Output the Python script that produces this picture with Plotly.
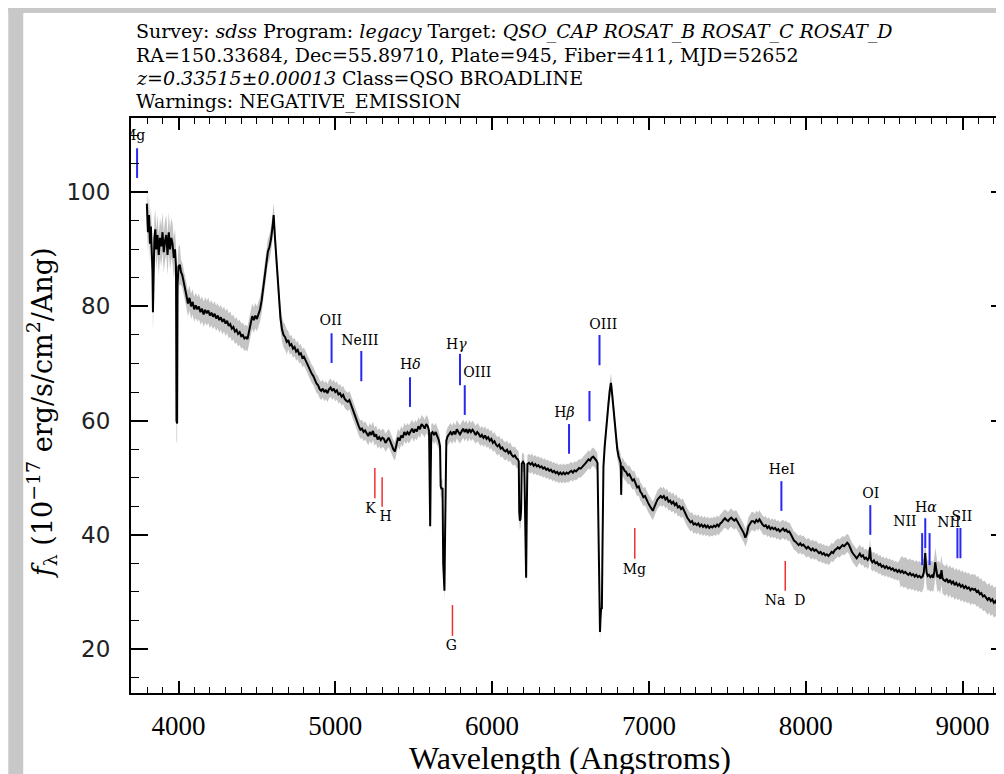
import numpy as np
import plotly.graph_objects as go

# ---------------- data ----------------
z = 0.33515

wavelength = [
 3798, 3805, 3812, 3818, 3824, 3830, 3834, 3837, 3840, 3846, 3852, 3858, 3866, 3874, 3882, 3890,
 3898, 3906, 3914, 3922, 3930, 3938, 3946, 3954, 3962, 3970, 3978, 3984, 3987, 3991, 3994, 4000,
 4008, 4016, 4024, 4032, 4040, 4050, 4060, 4070, 4080, 4090, 4100, 4110, 4120, 4130, 4140, 4150,
 4160, 4170, 4180, 4190, 4200, 4210, 4220, 4230, 4240, 4250, 4260, 4270, 4280, 4290, 4300, 4310,
 4320, 4330, 4340, 4350, 4360, 4370, 4380, 4390, 4400, 4410, 4420, 4430, 4440, 4450, 4460, 4470,
 4480, 4490, 4500, 4510, 4520, 4530, 4540, 4550, 4560, 4570, 4580, 4590, 4600, 4607, 4614, 4622,
 4630, 4640, 4650, 4660, 4670, 4680, 4690, 4700, 4710, 4720, 4730, 4740, 4750, 4760, 4770, 4780,
 4790, 4800, 4810, 4820, 4830, 4840, 4850, 4860, 4870, 4880, 4890, 4900, 4910, 4920, 4930, 4940,
 4950, 4960, 4970, 4980, 4990, 5000, 5010, 5020, 5030, 5040, 5050, 5060, 5070, 5080, 5090, 5100,
 5110, 5120, 5130, 5140, 5150, 5160, 5170, 5180, 5190, 5200, 5210, 5220, 5230, 5240, 5250, 5260,
 5270, 5280, 5290, 5300, 5310, 5320, 5330, 5340, 5350, 5360, 5370, 5380, 5390, 5400, 5410, 5420,
 5430, 5440, 5450, 5460, 5470, 5480, 5490, 5500, 5510, 5520, 5530, 5540, 5550, 5560, 5570, 5580,
 5590, 5598, 5602, 5605, 5608, 5612, 5620, 5630, 5640, 5650, 5660, 5668, 5672, 5678, 5684, 5688,
 5692, 5696, 5700, 5704, 5708, 5715, 5725, 5735, 5745, 5755, 5765, 5775, 5785, 5795, 5805, 5815,
 5825, 5835, 5845, 5855, 5865, 5875, 5885, 5895, 5905, 5915, 5925, 5935, 5945, 5955, 5965, 5975,
 5985, 5995, 6005, 6015, 6025, 6035, 6045, 6055, 6065, 6075, 6085, 6095, 6105, 6115, 6125, 6135,
 6145, 6155, 6165, 6170, 6173, 6177, 6181, 6185, 6189, 6197, 6205, 6209, 6213, 6217, 6221, 6225,
 6235, 6245, 6255, 6265, 6275, 6285, 6295, 6305, 6315, 6325, 6335, 6345, 6355, 6365, 6375, 6385,
 6395, 6405, 6415, 6425, 6435, 6445, 6455, 6465, 6475, 6485, 6495, 6505, 6515, 6525, 6535, 6545,
 6555, 6565, 6575, 6585, 6595, 6605, 6615, 6625, 6635, 6645, 6655, 6665, 6672, 6676, 6680, 6684,
 6688, 6692, 6696, 6700, 6704, 6710, 6718, 6726, 6734, 6742, 6750, 6758, 6766, 6774, 6782, 6790,
 6798, 6806, 6814, 6820, 6823, 6826, 6835, 6845, 6855, 6865, 6875, 6885, 6895, 6905, 6915, 6925,
 6935, 6945, 6955, 6965, 6975, 6985, 6995, 7005, 7015, 7025, 7035, 7045, 7055, 7065, 7075, 7085,
 7095, 7105, 7115, 7125, 7135, 7145, 7155, 7165, 7175, 7185, 7195, 7205, 7215, 7225, 7235, 7245,
 7255, 7265, 7275, 7285, 7295, 7305, 7315, 7325, 7335, 7345, 7355, 7365, 7375, 7385, 7395, 7405,
 7415, 7425, 7435, 7445, 7455, 7465, 7475, 7485, 7495, 7505, 7515, 7525, 7535, 7545, 7555, 7565,
 7575, 7585, 7595, 7605, 7615, 7625, 7635, 7645, 7655, 7665, 7675, 7685, 7695, 7705, 7715, 7725,
 7735, 7745, 7755, 7765, 7775, 7785, 7795, 7805, 7815, 7825, 7835, 7845, 7855, 7865, 7875, 7885,
 7895, 7905, 7915, 7925, 7935, 7945, 7955, 7965, 7975, 7985, 7995, 8005, 8015, 8025, 8035, 8045,
 8055, 8065, 8075, 8085, 8095, 8105, 8115, 8125, 8135, 8145, 8155, 8165, 8175, 8185, 8195, 8205,
 8215, 8225, 8235, 8245, 8255, 8265, 8275, 8285, 8295, 8305, 8315, 8325, 8335, 8345, 8355, 8365,
 8375, 8385, 8395, 8404, 8410, 8416, 8425, 8435, 8445, 8455, 8465, 8475, 8485, 8495, 8505, 8515,
 8525, 8535, 8545, 8555, 8565, 8575, 8585, 8595, 8605, 8615, 8625, 8635, 8645, 8655, 8665, 8675,
 8685, 8695, 8705, 8715, 8725, 8735, 8745, 8753, 8758, 8762, 8766, 8771, 8778, 8786, 8795, 8805,
 8813, 8820, 8826, 8832, 8840, 8850, 8858, 8866, 8872, 8880, 8890, 8900, 8910, 8920, 8930, 8940,
 8950, 8960, 8970, 8980, 8990, 9000, 9010, 9020, 9030, 9040, 9050, 9060, 9070, 9080, 9090, 9100,
 9110, 9120, 9130, 9140, 9150, 9160, 9170, 9180, 9190, 9200, 9210, 9218,
]

flux = [
 98.0, 93.0, 96.0, 91.0, 94.0, 90.0, 86.0, 79.0, 88.0, 92.0, 93.5, 90.0, 92.5, 89.0, 92.0, 90.5,
 93.0, 89.5, 91.5, 92.5, 89.0, 93.0, 90.0, 92.0, 91.0, 88.5, 90.0, 87.0, 60.0, 59.5, 84.0, 87.0,
 87.3, 86.0, 85.5, 84.2, 83.0, 82.0, 80.5, 81.5, 80.0, 80.8, 79.5, 80.2, 79.5, 80.0, 79.0, 79.6,
 78.6, 79.4, 78.8, 79.3, 78.4, 78.9, 78.2, 78.7, 77.9, 78.4, 77.6, 78.1, 77.3, 77.8, 77.0, 77.5,
 76.6, 76.9, 76.1, 76.4, 75.6, 75.9, 75.2, 75.5, 74.8, 75.0, 74.4, 74.6, 74.3, 75.8, 77.2, 78.3,
 77.6, 78.4, 77.8, 78.6, 79.5, 81.0, 83.0, 85.2, 87.5, 89.6, 90.4, 91.8, 94.0, 96.0, 92.5, 89.0,
 85.5, 81.5, 78.0, 76.0, 75.0, 74.6, 73.8, 74.1, 73.2, 73.4, 72.6, 72.9, 72.1, 72.4, 71.6, 71.8,
 71.0, 71.2, 70.6, 69.8, 69.5, 68.8, 68.2, 67.8, 67.0, 66.5, 66.2, 65.5, 65.2, 65.6, 65.0, 65.4,
 64.8, 65.5, 65.8, 65.2, 65.6, 65.0, 65.3, 64.6, 64.8, 64.2, 64.5, 63.8, 63.5, 63.3, 63.6, 62.8,
 62.2, 61.5, 60.6, 59.8, 59.0, 58.4, 58.6, 58.0, 58.3, 57.8, 57.3, 58.0, 57.5, 58.2, 57.2, 57.6,
 56.7, 57.1, 56.6, 57.0, 56.8, 56.1, 56.6, 57.0, 56.4, 55.6, 55.0, 54.6, 55.6, 57.0, 56.5, 57.4,
 57.0, 58.0, 57.5, 58.0, 57.6, 58.1, 58.6, 57.9, 58.5, 58.1, 59.0, 58.5, 59.4, 59.1, 58.6, 59.4,
 59.0, 58.2, 45.0, 41.5, 50.0, 57.8, 58.0, 57.5, 58.0, 57.2, 56.6, 55.5, 48.5, 48.0, 48.2, 35.0,
 30.5, 30.2, 40.0, 48.0, 56.5, 57.2, 57.6, 58.0, 57.5, 58.1, 57.6, 58.5, 58.0, 57.6, 58.1, 58.6,
 58.0, 58.5, 57.8, 58.5, 58.0, 58.4, 58.0, 57.5, 58.0, 57.7, 57.1, 57.5, 57.0, 57.4, 56.8, 57.1,
 56.5, 56.8, 56.1, 56.4, 55.8, 55.5, 55.8, 55.1, 55.3, 54.8, 54.6, 54.9, 54.3, 54.6, 54.0, 53.7,
 53.9, 53.4, 53.2, 52.8, 44.0, 42.5, 42.8, 44.5, 52.5, 52.8, 52.4, 46.0, 33.0, 32.5, 44.0, 52.4,
 52.6, 52.3, 52.6, 52.1, 52.4, 52.0, 52.2, 51.8, 52.0, 51.6, 51.8, 51.4, 51.6, 51.2, 51.4, 51.0,
 51.2, 50.8, 51.0, 50.6, 50.9, 50.6, 50.9, 50.6, 50.9, 50.7, 51.0, 51.2, 50.9, 51.3, 51.1, 51.5,
 51.7, 51.6, 52.0, 52.2, 52.5, 52.8, 53.2, 53.0, 53.5, 53.7, 53.4, 53.0, 52.6, 45.0, 30.0, 25.0,
 23.0, 26.0, 27.2, 27.0, 38.0, 52.0, 55.5, 58.5, 60.5, 63.0, 65.2, 66.6, 64.5, 62.0, 59.8, 57.0,
 55.0, 53.8, 53.2, 52.6, 47.0, 52.0, 51.8, 51.2, 51.0, 50.4, 50.6, 49.9, 49.5, 49.7, 49.0, 48.3,
 48.5, 47.6, 47.2, 46.6, 46.8, 46.1, 45.6, 45.1, 44.5, 44.2, 44.9, 45.7, 46.2, 46.5, 46.8, 46.5,
 46.8, 46.2, 46.5, 45.8, 46.0, 45.5, 45.8, 45.2, 45.5, 44.8, 45.0, 44.5, 44.8, 44.2, 43.5, 43.0,
 42.6, 42.2, 42.4, 41.8, 42.0, 41.7, 42.0, 41.5, 41.8, 41.4, 41.7, 41.3, 41.6, 41.2, 41.5, 41.3,
 41.6, 41.4, 41.8, 41.5, 42.0, 42.2, 42.6, 42.9, 42.6, 42.4, 42.8, 43.0, 42.7, 42.5, 42.8, 42.3,
 42.0, 41.5, 41.0, 40.3, 39.5, 40.2, 41.5, 42.0, 42.4, 42.4, 42.1, 42.6, 42.3, 42.7, 42.2, 41.8,
 41.5, 41.7, 41.2, 41.5, 41.0, 41.3, 41.0, 41.2, 40.8, 41.0, 40.6, 40.9, 41.1, 40.7, 40.9, 40.5,
 40.6, 40.1, 39.5, 39.0, 38.8, 38.4, 38.2, 38.5, 38.1, 38.3, 37.9, 37.6, 37.9, 37.5, 37.3, 37.6,
 37.2, 37.4, 37.0, 36.8, 37.0, 36.6, 36.8, 36.4, 36.6, 36.3, 36.6, 37.0, 36.8, 37.3, 37.5, 37.8,
 37.6, 37.9, 38.2, 38.0, 38.4, 38.6, 38.3, 37.6, 37.0, 36.6, 36.2, 35.9, 36.3, 36.7, 36.2, 36.4,
 35.8, 36.0, 35.6, 36.0, 37.8, 35.6, 35.2, 35.5, 35.0, 35.2, 34.7, 34.9, 34.4, 34.6, 34.2, 34.5,
 34.1, 34.3, 33.9, 34.1, 33.7, 33.9, 33.5, 33.8, 33.4, 33.7, 33.3, 33.5, 33.2, 33.0, 33.3, 32.9,
 33.1, 32.7, 33.0, 32.6, 32.8, 32.5, 32.7, 33.4, 35.0, 36.8, 35.0, 33.4, 32.8, 33.0, 32.6, 32.9,
 32.5, 33.5, 35.2, 33.6, 32.6, 32.9, 32.3, 33.8, 32.4, 32.1, 31.9, 32.3, 31.6, 32.1, 31.5, 31.8,
 31.2, 31.6, 31.1, 31.4, 30.9, 31.2, 30.7, 31.0, 30.6, 30.8, 30.3, 30.6, 30.4, 30.5, 30.0, 30.2,
 29.6, 29.8, 29.2, 29.4, 29.0, 28.6, 29.0, 28.4, 28.7, 28.1, 28.4, 27.9,
]

# half-width of the grey (unsmoothed) flux band, by wavelength segment
err_edges = [3790, 4010, 4700, 8600]
err_values = [3.5, 2.2, 1.6, 2.6]

# emission lines (blue): rest wavelength, mark top / bottom flux
em_names = ["Mg", "OII", "NeIII", "H<i>δ</i>", "H<i>γ</i>", "OIII", "H<i>β</i>", "", "OIII",
            "HeI", "OI", "NII", "H<i>α</i>", "NII", "SII", ""]
em_rest = [2798.0, 3727.0, 3869.0, 4101.7, 4340.5, 4363.2, 4861.3, 4958.9, 5006.8,
           5875.6, 6300.3, 6548.0, 6562.8, 6583.4, 6716.4, 6730.8]
em_top = [107.7, 75.3, 72.2, 67.6, 71.7, 66.2, 59.4, 65.2, 75.0, 49.4, 45.2, 40.3, 42.9, 40.3, 41.2, 41.2]
em_bot = [102.5, 70.1, 66.9, 62.4, 66.2, 61.0, 54.2, 59.9, 69.7, 44.2, 40.0, 34.7, 37.7, 34.7, 35.9, 35.9]
em_label_x = [3714, 4971, 5157, 5479, 5772, 5906, 6461, None, 6709, 7848, 8415, 8632, 8766, 8913, 8996, None]
em_label_y = [109.8, 77.4, 73.9, 69.6, 73.2, 68.2, 61.2, None, 76.7, 51.2, 47.0, 42.1, 44.7, 41.9, 43.0, None]

# absorption lines (red)
ab_names = ["K", "H", "G", "Mg", "Na\u00a0\u00a0D"]
ab_rest = [3933.7, 3968.5, 4304.4, 5175.3, 5894.0]
ab_top = [51.7, 50.1, 27.7, 41.2, 35.4]
ab_bot = [46.4, 44.9, 22.3, 35.8, 30.2]
ab_label_x = [5225, 5321, 5740, 6907, 7868]
ab_label_y = [44.5, 43.1, 20.5, 33.8, 28.4]

title_lines = [
    "Survey: <i>sdss</i> Program: <i>legacy</i> Target: <i>QSO_CAP ROSAT_B ROSAT_C ROSAT_D</i>",
    "RA=150.33684, Dec=55.89710, Plate=945, Fiber=411, MJD=52652",
    "<i>z=0.33515±0.00013</i> Class=QSO BROADLINE",
    "Warnings: NEGATIVE_EMISSION",
]

x_ticks = [4000, 5000, 6000, 7000, 8000, 9000]
y_ticks = [20, 40, 60, 80, 100]

# ---------------- build figure ----------------
wave = np.array(wavelength, dtype=float)
fl = np.array(flux, dtype=float)
seg = np.clip(np.searchsorted(err_edges, wave, side="right") - 1, 0, len(err_values) - 1)
err = np.array(err_values)[seg]

fig = go.Figure()
fig.add_trace(go.Scatter(x=wave, y=fl + err, mode="lines", line=dict(width=0, color="#c4c4c4"),
                         hoverinfo="skip", showlegend=False))
fig.add_trace(go.Scatter(x=wave, y=fl - err, mode="lines", line=dict(width=0, color="#c4c4c4"),
                         fill="tonexty", fillcolor="#c4c4c4", hoverinfo="skip", showlegend=False))
fig.add_trace(go.Scatter(x=wave, y=fl, mode="lines", line=dict(color="black", width=2),
                         showlegend=False))

def seg_xy(rest, top, bot):
    xs, ys = [], []
    for r, t, b in zip(rest, top, bot):
        w = r * (1 + z)
        xs += [w, w, None]
        ys += [t, b, None]
    return xs, ys

ex, ey = seg_xy(em_rest, em_top, em_bot)
fig.add_trace(go.Scatter(x=ex, y=ey, mode="lines", line=dict(color="#2828f0", width=2),
                         showlegend=False, hoverinfo="skip"))
ax_, ay_ = seg_xy(ab_rest, ab_top, ab_bot)
fig.add_trace(go.Scatter(x=ax_, y=ay_, mode="lines", line=dict(color="#f03030", width=1.5),
                         showlegend=False, hoverinfo="skip"))

lab_x = [x for x in em_label_x if x is not None] + ab_label_x
lab_y = [y for y in em_label_y if y is not None] + ab_label_y
lab_t = [n for n, x in zip(em_names, em_label_x) if x is not None] + ab_names
fig.add_trace(go.Scatter(x=lab_x, y=lab_y, mode="text", text=lab_t, cliponaxis=True,
                         textposition="middle center",
                         textfont=dict(family="DejaVu Serif", size=14, color="black"),
                         showlegend=False, hoverinfo="skip"))

L, R, T, B = 123, 1002, 110, 685
W, H = 1004, 774
pw, ph = R - L, B - T

def px(p):
    return (p - L) / pw

def py(p):
    return (B - p) / ph

annotations = []
for line, yc in zip(title_lines, [23, 46.5, 70, 93]):
    annotations.append(dict(text=line, xref="paper", yref="paper", x=px(126), y=py(yc),
                            xanchor="left", yanchor="middle", showarrow=False,
                            font=dict(family="DejaVu Serif", size=19, color="black")))
annotations.append(dict(text="<i>f</i><sub>λ</sub> (10<sup>−17</sup> erg/s/cm<sup>2</sup>/Ang)",
                        xref="paper", yref="paper", x=px(34), y=py(405), textangle=-90,
                        xanchor="center", yanchor="middle", showarrow=False,
                        font=dict(family="DejaVu Serif", size=27, color="black")))
annotations.append(dict(text="Wavelength (Angstroms)", xref="paper", yref="paper",
                        x=0.5, y=py(750), xanchor="center", yanchor="middle", showarrow=False,
                        font=dict(family="Liberation Serif", size=32, color="black")))

shapes = [
    dict(type="rect", xref="paper", yref="paper", x0=px(0), x1=px(15), y0=py(H), y1=py(0),
         fillcolor="#c8c8c8", line=dict(width=0), layer="above"),
    dict(type="rect", xref="paper", yref="paper", x0=px(0), x1=px(W), y0=py(5), y1=py(0),
         fillcolor="#c8c8c8", line=dict(width=0), layer="above"),
]

fig.update_layout(
    width=W, height=H,
    margin=dict(l=L, r=W - R, t=T, b=H - B),
    paper_bgcolor="white", plot_bgcolor="white",
    annotations=annotations, shapes=shapes,
    showlegend=False,
)
fig.update_xaxes(range=[3697, 9290], tickvals=x_ticks, ticks="inside", ticklen=12, tickwidth=1.5,
                 tickcolor="black", showline=True, linewidth=2, linecolor="black", mirror="ticks",
                 showgrid=False, zeroline=False, ticklabelstandoff=8,
                 tickfont=dict(family="Liberation Serif", size=27, color="black"),
                 minor=dict(dtick=100, tick0=0, ticks="inside", ticklen=6, tickwidth=1.2,
                            tickcolor="black", showgrid=False))
fig.update_yaxes(range=[12.3, 113.0], tickvals=y_ticks, ticks="inside", ticklen=17, tickwidth=1.5,
                 tickcolor="black", showline=True, linewidth=2, linecolor="black", mirror="ticks",
                 showgrid=False, zeroline=False, ticklabelstandoff=14,
                 tickfont=dict(family="DejaVu Sans", size=23, color="#222222"),
                 minor=dict(dtick=5, tick0=0, ticks="inside", ticklen=8, tickwidth=1.2,
                            tickcolor="black", showgrid=False))

fig.write_html("out.html")
